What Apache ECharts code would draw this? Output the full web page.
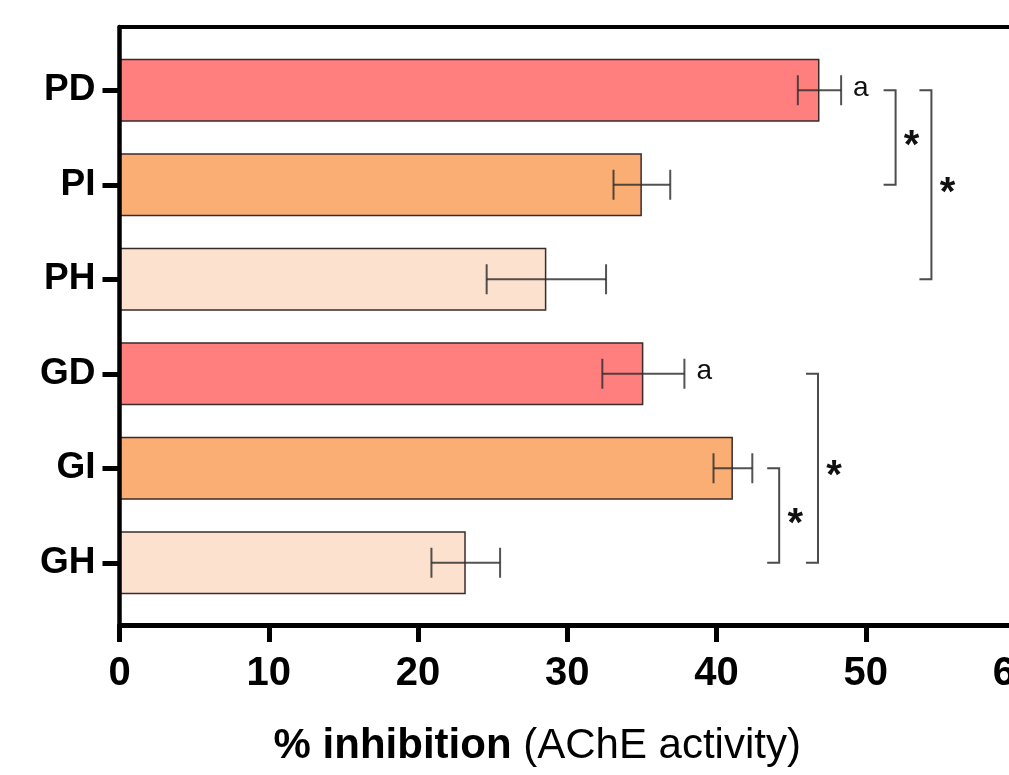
<!DOCTYPE html>
<html>
<head>
<meta charset="utf-8">
<script src="https://cdn.jsdelivr.net/npm/echarts@6/dist/echarts.min.js"></script>
<style>
html,body{margin:0;padding:0;background:#fff;}
#chart{width:1009px;height:775px;}
</style>
</head>
<body>
<div id="chart"></div>
<script>
// ---- data ----
var categories = ['PD', 'PI', 'PH', 'GD', 'GI', 'GH'];
var means = [46.9, 35.0, 28.6, 35.1, 41.1, 23.2];
var errors = [1.45, 1.9, 4.0, 2.75, 1.3, 2.3];
var letters = ['a', '', '', 'a', '', ''];
var barColors = ['#FF7F7F', '#FBAE73', '#FCE1CE', '#FF7F7F', '#FBAE73', '#FCE1CE'];
var bracketFrom = [0, 0, 4, 3];
var bracketTo = [1, 2, 5, 5];
var bracketX = [52.0, 54.4, 44.2, 46.8];
var bracketText = ['*', '*', '*', '*'];
var xTicks = [0, 10, 20, 30, 40, 50, 60];

var FONT = '"Liberation Sans", Arial, Helvetica, sans-serif';

var barData = means.map(function (v, i) {
  return { value: v, itemStyle: { color: barColors[i] } };
});
var errData = means.map(function (v, i) {
  return [i, v - errors[i], v + errors[i]];
});
var brData = bracketX.map(function (x, i) {
  return [bracketFrom[i], bracketTo[i], x];
});

var chart = echarts.init(document.getElementById('chart'), null, { renderer: 'canvas' });

var option = {
  backgroundColor: '#fff',
  animation: false,
  grid: [
    { left: 119.5, right: -6, top: 27, bottom: 150, containLabel: false, outerBoundsMode: 'none' },
    { left: 119.5, right: -6, top: 43, bottom: 165, containLabel: false, outerBoundsMode: 'none' }
  ],
  xAxis: [
    {
      gridIndex: 0, type: 'value', position: 'bottom', min: xTicks[0], max: xTicks[xTicks.length - 1], interval: 10,
      z: 10,
      axisLine: { show: true, lineStyle: { color: '#000', width: 5 } },
      axisTick: { show: true, length: 17, lineStyle: { color: '#000', width: 5 } },
      axisLabel: { show: true, margin: 29, color: '#000', fontSize: 40, fontWeight: 'bold', fontFamily: FONT, hideOverlap: false },
      splitLine: { show: false },
      name: '{b|% inhibition }{n|(AChE activity)}',
      nameLocation: 'middle',
      nameGap: 100,
      nameTextStyle: {
        padding: [0, 60, 0, 0],
        rich: {
          b: { fontSize: 42, fontWeight: 'bold', color: '#000', fontFamily: FONT },
          n: { fontSize: 42, fontWeight: 'normal', color: '#000', fontFamily: FONT }
        }
      }
    },
    {
      gridIndex: 0, type: 'value', position: 'top', min: 0, max: 60, interval: 10,
      z: 10,
      axisLine: { show: true, lineStyle: { color: '#000', width: 4 } },
      axisTick: { show: false }, axisLabel: { show: false }, splitLine: { show: false }
    },
    {
      gridIndex: 1, type: 'value', min: 0, max: 60, show: false
    }
  ],
  yAxis: [
    {
      gridIndex: 0, type: 'value', min: 0, max: 1, position: 'left',
      z: 10,
      axisLine: { show: true, lineStyle: { color: '#000', width: 4.5 } },
      axisTick: { show: false }, axisLabel: { show: false }, splitLine: { show: false }
    },
    {
      gridIndex: 1, type: 'category', data: categories, inverse: true,
      z: 10,
      axisLine: { show: false },
      axisTick: { show: true, alignWithLabel: true, length: 17, lineStyle: { color: '#000', width: 5 } },
      axisLabel: { margin: 24, color: '#000', fontSize: 37, fontWeight: 'bold', fontFamily: FONT },
      splitLine: { show: false }
    }
  ],
  series: [
    {
      type: 'bar', xAxisIndex: 2, yAxisIndex: 1,
      data: barData,
      barWidth: 63,
      itemStyle: { borderColor: '#3a2b2b', borderWidth: 1.5 },
      z: 2
    },
    {
      type: 'custom', xAxisIndex: 2, yAxisIndex: 1,
      data: errData,
      encode: { x: [1, 2], y: 0 },
      z: 3,
      renderItem: function (params, api) {
        var cat = api.value(0), lo = api.value(1), hi = api.value(2);
        var letter = letters[params.dataIndex];
        var p1 = api.coord([lo, cat]), p2 = api.coord([hi, cat]);
        var h = 15;
        var st = { stroke: 'rgba(45,45,45,0.82)', lineWidth: 2 };
        var ch = [
          { type: 'line', shape: { x1: p1[0], y1: p1[1], x2: p2[0], y2: p2[1] }, style: st },
          { type: 'line', shape: { x1: p1[0], y1: p1[1] - h, x2: p1[0], y2: p1[1] + h }, style: st },
          { type: 'line', shape: { x1: p2[0], y1: p2[1] - h, x2: p2[0], y2: p2[1] + h }, style: st }
        ];
        if (letter) {
          ch.push({ type: 'text', x: p2[0] + 12, y: p2[1] - 2,
            style: { text: letter, font: '28px ' + FONT, fill: '#111', verticalAlign: 'middle', align: 'left' } });
        }
        return { type: 'group', children: ch };
      }
    },
    {
      type: 'custom', xAxisIndex: 2, yAxisIndex: 1,
      data: brData,
      encode: { x: 2, y: [0, 1] },
      z: 3,
      renderItem: function (params, api) {
        var a = api.value(0), b = api.value(1), x = api.value(2);
        var pt = api.coord([x, a]), pb = api.coord([x, b]);
        var arm = 12;
        var st = { stroke: 'rgba(45,45,45,0.85)', lineWidth: 2, fill: null };
        return {
          type: 'group',
          children: [
            { type: 'polyline', shape: { points: [[pt[0] - arm, pt[1]], [pt[0], pt[1]], [pb[0], pb[1]], [pb[0] - arm, pb[1]]] }, style: st },
            { type: 'text', x: pt[0] + 16, y: (pt[1] + pb[1]) / 2 + 9,
              style: { text: bracketText[params.dataIndex], font: 'bold 40px ' + FONT, fill: '#111', align: 'center', verticalAlign: 'middle' } }
          ]
        };
      }
    }
  ]
};
chart.setOption(option);
</script>
</body>
</html>
